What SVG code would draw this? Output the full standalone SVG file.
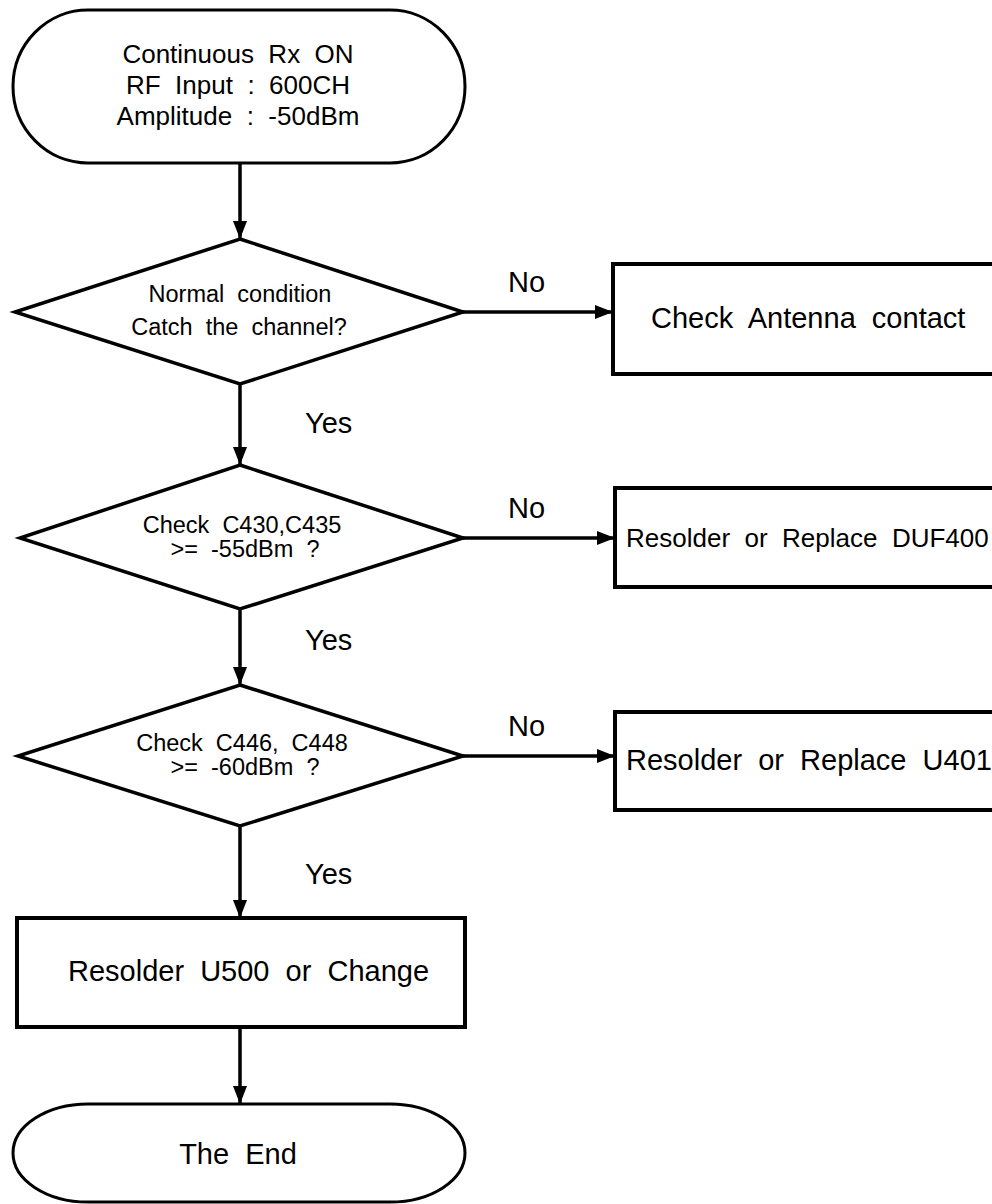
<svg xmlns="http://www.w3.org/2000/svg" width="992" height="1204" viewBox="0 0 992 1204">
<style>
.shape{fill:#fff;stroke:#000;stroke-width:3.5}
.box{fill:#fff;stroke:#000;stroke-width:4}
.term{fill:#fff;stroke:#000;stroke-width:3}
.edge{fill:none;stroke:#000;stroke-width:3.5}
text{font-family:"Liberation Sans",Arial,sans-serif;fill:#000;white-space:pre}
.t26{font-size:26px}
.t29{font-size:29px}
.t23{font-size:23.5px}
.mid{text-anchor:middle}
</style>
<defs>
<marker id="arr" markerUnits="userSpaceOnUse" markerWidth="18" markerHeight="14" refX="18" refY="7" orient="auto">
<path d="M0,0 L18,7 L0,14 Z" fill="#000"/>
</marker>
</defs>
<rect width="992" height="1204" fill="#fff"/>
<g id="connectors">
<line class="edge" x1="240" y1="163" x2="240" y2="239" marker-end="url(#arr)"/>
<line class="edge" x1="463" y1="312" x2="613" y2="312" marker-end="url(#arr)"/>
<line class="edge" x1="240" y1="384" x2="240" y2="465" marker-end="url(#arr)"/>
<line class="edge" x1="463" y1="538" x2="615" y2="538" marker-end="url(#arr)"/>
<line class="edge" x1="240" y1="609" x2="240" y2="685" marker-end="url(#arr)"/>
<line class="edge" x1="463" y1="756" x2="615" y2="756" marker-end="url(#arr)"/>
<line class="edge" x1="240" y1="826" x2="240" y2="918" marker-end="url(#arr)"/>
<line class="edge" x1="240" y1="1027" x2="240" y2="1104" marker-end="url(#arr)"/>
<text class="t29" x="508" y="292">No</text>
<text class="t29" x="508" y="518">No</text>
<text class="t29" x="508" y="736">No</text>
<text class="t29" x="305" y="433">Yes</text>
<text class="t29" x="305" y="650">Yes</text>
<text class="t29" x="305" y="884">Yes</text>
</g>
<g id="start">
<path class="term" d="M88 10 H390 A75 76.5 0 0 1 390 163 H88 A75 76.5 0 0 1 88 10 Z"/>
<text class="t26 mid" x="238" y="63">Continuous  Rx  ON</text>
<text class="t26 mid" x="238" y="94">RF  Input  :  600CH</text>
<text class="t26 mid" x="238" y="125">Amplitude  :  -50dBm</text>
</g>
<g id="dec1">
<polygon class="shape" points="240,239 463,312 240,384 15,312"/>
<text class="t23 mid" x="240" y="302">Normal  condition</text>
<text class="t23 mid" x="239" y="335">Catch  the  channel?</text>
</g>
<g id="box1">
<rect class="box" x="613" y="264" width="400" height="110"/>
<text class="t29" x="651" y="328">Check  Antenna  contact</text>
</g>
<g id="dec2">
<polygon class="shape" points="240,465 463,538 240,609 20,538"/>
<text class="t23 mid" x="242" y="533">Check  C430,C435</text>
<text class="t23 mid" x="245" y="557">&gt;=  -55dBm  ?</text>
</g>
<g id="box2">
<rect class="box" x="615" y="488" width="400" height="99"/>
<text class="t26" x="626" y="547">Resolder  or  Replace  DUF400</text>
</g>
<g id="dec3">
<polygon class="shape" points="240,685 463,756 240,826 18,756"/>
<text class="t23 mid" x="242" y="751">Check  C446,  C448</text>
<text class="t23 mid" x="245" y="775">&gt;=  -60dBm  ?</text>
</g>
<g id="box3">
<rect class="box" x="615" y="712" width="400" height="98"/>
<text class="t29" x="626" y="770">Resolder  or  Replace  U401</text>
</g>
<g id="box4">
<rect class="box" x="17" y="918" width="448" height="109"/>
<text class="t29" x="68" y="981">Resolder  U500  or  Change</text>
</g>
<g id="end">
<path class="term" d="M88 1104 H390 A75 49 0 0 1 390 1202 H88 A75 49 0 0 1 88 1104 Z"/>
<text class="t29 mid" x="238" y="1164">The  End</text>
</g>
</svg>
